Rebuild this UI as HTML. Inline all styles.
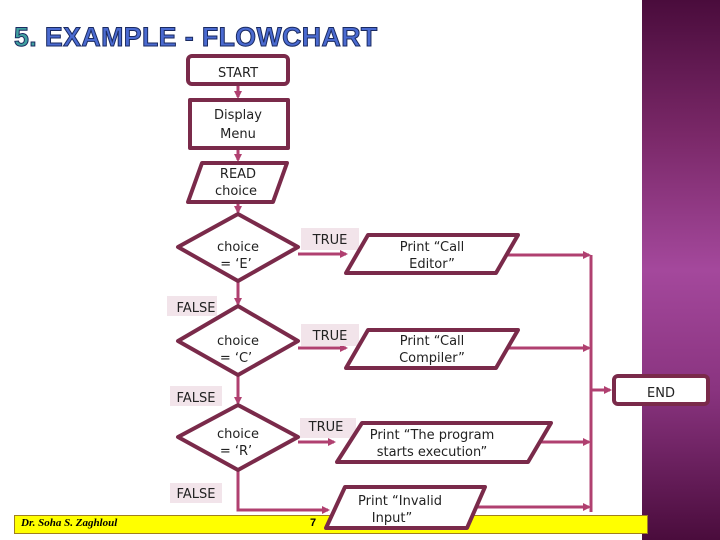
<!DOCTYPE html>
<html><head><style>
body{margin:0;width:720px;height:540px;overflow:hidden;background:#fff;position:relative;font-family:"Liberation Sans",sans-serif}
.panel{position:absolute;left:642px;top:0;width:78px;height:540px;background:linear-gradient(180deg,#4a0c3c 0%,#7a2868 25%,#a4489c 50%,#8a3480 72%,#4a0c3c 100%)}
.title{position:absolute;left:14px;top:22px;font-size:27px;font-weight:bold;color:#4a6ad0;-webkit-text-stroke:1px #1a2a60;letter-spacing:0.4px;transform:scaleX(0.99);transform-origin:left}
.title span{color:#40a0a0}
.bar{position:absolute;left:14px;top:515px;width:632px;height:17px;background:#ffff00;border:1px solid #a08020}
.bar i{position:absolute;left:6px;top:1px;font-size:11px;font-weight:bold;font-family:"Liberation Serif",serif}
svg{position:absolute;left:0;top:0}
text{font-family:"DejaVu Sans",sans-serif;font-size:13px}
</style></head><body>
<div class="panel"></div>
<div class="title"><span>5.</span> EXAMPLE - FLOWCHART</div>
<div class="bar"><i>Dr. Soha S. Zaghloul</i><b style="position:absolute;left:295px;top:1px;font-size:11px">7</b></div>
<svg width="720" height="540">
<defs><marker id="a" markerWidth="8" markerHeight="8" refX="6" refY="4" orient="auto" markerUnits="userSpaceOnUse"><path d="M0,0 L8,4 L0,8z" fill="#b04070"/></marker></defs>
<g stroke="#b04070" stroke-width="3" fill="none">
<line x1="238" y1="84" x2="238" y2="97" marker-end="url(#a)"/>
<line x1="238" y1="148" x2="238" y2="160" marker-end="url(#a)"/>
<line x1="238" y1="202" x2="238" y2="212" marker-end="url(#a)"/>
<line x1="238" y1="280" x2="238" y2="304" marker-end="url(#a)"/>
<line x1="238" y1="375" x2="238" y2="403" marker-end="url(#a)"/>
<polyline points="238,470 238,510 328,510" marker-end="url(#a)"/>
<line x1="298" y1="254" x2="346" y2="254" marker-end="url(#a)"/>
<line x1="298" y1="348" x2="346" y2="348" marker-end="url(#a)"/>
<line x1="298" y1="442" x2="334" y2="442" marker-end="url(#a)"/>
<line x1="500" y1="255" x2="589" y2="255" marker-end="url(#a)"/>
<line x1="500" y1="348" x2="589" y2="348" marker-end="url(#a)"/>
<line x1="530" y1="442" x2="589" y2="442" marker-end="url(#a)"/>
<line x1="470" y1="507" x2="589" y2="507" marker-end="url(#a)"/>
<line x1="591" y1="255" x2="591" y2="512"/>
<line x1="591" y1="390" x2="610" y2="390" marker-end="url(#a)"/>
</g>
<g fill="#f2e4ea">
<rect x="301" y="228" width="58" height="22"/><rect x="301" y="324" width="58" height="22"/><rect x="300" y="418" width="56" height="20"/>
<rect x="167" y="296" width="50" height="20"/><rect x="170" y="386" width="52" height="20"/><rect x="170" y="483" width="52" height="20"/>
</g>
<g stroke="#7a2a4a" stroke-width="4" fill="#fff" stroke-linejoin="round">
<rect x="188" y="56" width="100" height="28" rx="4"/>
<rect x="190" y="100" width="98" height="48"/>
<polygon points="202,163 287,163 273,202 188,202"/>
<polygon points="238,214 298,247 238,281 178,247"/>
<polygon points="238,306 298,341 238,375 178,341"/>
<polygon points="238,405 298,437 238,470 178,437"/>
<polygon points="368,235 518,235 496,273 346,273"/>
<polygon points="368,330 518,330 496,368 346,368"/>
<polygon points="362,423 551,423 528,462 337,462"/>
<polygon points="345,487 485,487 467,528 326,528"/>
<rect x="614" y="376" width="94" height="28" rx="4"/>
</g>
<g fill="#222" text-anchor="middle">
<text x="238" y="77" font-size="16">START</text>
<text x="238" y="119">Display</text><text x="238" y="138">Menu</text>
<text x="238" y="178" font-size="12">READ</text><text x="236" y="195" font-size="12">choice</text>
<text x="238" y="251">choice</text><text x="236" y="268">= ‘E’</text>
<text x="238" y="345">choice</text><text x="236" y="362">= ‘C’</text>
<text x="238" y="438">choice</text><text x="236" y="455">= ‘R’</text>
<text x="432" y="251">Print “Call</text><text x="432" y="268">Editor”</text>
<text x="432" y="345">Print “Call</text><text x="432" y="362">Compiler”</text>
<text x="432" y="439">Print “The program</text><text x="432" y="456">starts execution”</text>
<text x="400" y="505">Print “Invalid</text><text x="392" y="522">Input”</text>
<text x="330" y="244" font-size="14">TRUE</text><text x="330" y="340" font-size="14">TRUE</text><text x="326" y="431" font-size="14">TRUE</text>
<text x="196" y="312" font-size="14">FALSE</text><text x="196" y="402" font-size="14">FALSE</text><text x="196" y="498" font-size="14">FALSE</text>
<text x="661" y="397" font-size="17">END</text>
</g>
</svg>
</body></html>
